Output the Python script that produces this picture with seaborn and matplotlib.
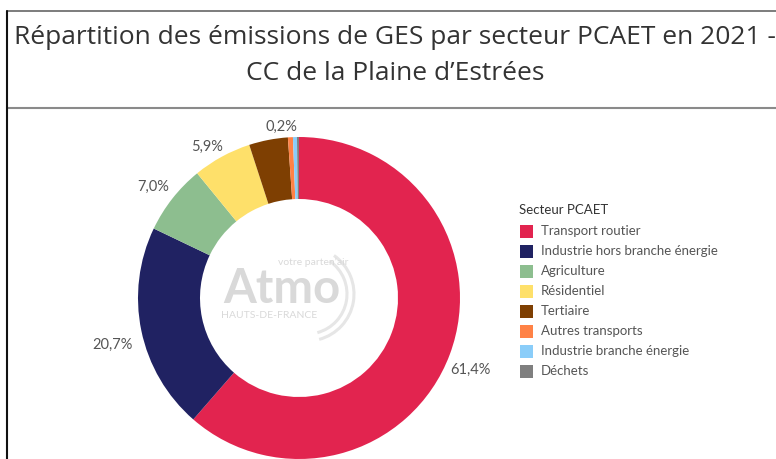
import matplotlib
matplotlib.use("Agg")
import matplotlib.pyplot as plt
from matplotlib.patches import Arc
import numpy as np
import seaborn as sns

# Sector shares of GHG emissions (%)
secteurs = ["Transport routier", "Industrie hors branche énergie", "Agriculture",
            "Résidentiel", "Tertiaire", "Autres transports",
            "Industrie branche énergie", "Déchets"]
parts = [61.4, 20.7, 7.0, 5.9, 3.9, 0.5, 0.4, 0.2]
etiquettes = ["61,4%", "20,7%", "7,0%", "5,9%", "", "", "", "0,2%"]
couleurs = ["#E2244F", "#202262", "#8DBE8F", "#FEE06A", "#7E3F02",
            "#FF8246", "#8ACDF9", "#7F7F7F"]

titre = "Répartition des émissions de GES par secteur PCAET en 2021 -\nCC de la Plaine d\u2019Estrées"
titre_legende = "Secteur PCAET"

sns.set_theme(style="white")
plt.rcParams["font.family"] = ["Lato", "DejaVu Sans"]
palette = sns.color_palette(couleurs)

W, H = 776, 459
fig = plt.figure(figsize=(W / 100, H / 100), dpi=100)
ax = fig.add_axes([0, 0, 1, 1])

cx, cy, R = 299, H - 298, 161
wedges, _ = ax.pie(parts, colors=palette, startangle=90, counterclock=False,
                   radius=R, center=(cx, cy),
                   wedgeprops=dict(width=62, linewidth=0, antialiased=True),
                   frame=True)

# value labels placed outside the ring (radial factor, alignment, nudge)
decal = {"61,4%": (1.08, "left", -12, -11), "20,7%": (1.08, "right", 4, -12),
         "7,0%": (1.12, "right", 12, 0), "5,9%": (1.12, "right", 10, -7),
         "0,2%": (1.08, "center", -16, -3)}
for w, lab in zip(wedges, etiquettes):
    if not lab:
        continue
    ang = np.deg2rad((w.theta1 + w.theta2) / 2)
    k, ha, dx, dy = decal[lab]
    x = cx + k * R * np.cos(ang) + dx
    y = cy + k * R * np.sin(ang) + dy
    ax.text(x, y, lab, ha=ha, va="center", fontsize=10.5, color="#555555")

# watermark logo in the hole
logo = "#d9d9d9"
ax.text(cx - 17, cy + 9, "Atmo", ha="center", va="center", fontsize=34,
        color=logo, fontweight="bold")
ax.text(cx + 14, cy + 36, "votre parten\u2019air", ha="center", va="center",
        fontsize=7.5, color=logo)
ax.text(cx - 30, cy - 17, "HAUTS-DE-FRANCE", ha="center", va="center",
        fontsize=7.5, color=logo)
for r in (40, 47):
    ax.add_patch(Arc((cx + 8, cy + 4), 2 * r, 2 * r, theta1=-75, theta2=55,
                     color="#e6e6e6", lw=2.2))

# title band and frame lines
lignes = titre.split("\n")
ax.text(395, H - 37, lignes[0], ha="center", va="center",
        fontsize=19, color="#333333", family=["Open Sans", "DejaVu Sans"])
ax.text(395, H - 73, lignes[1], ha="center", va="center",
        fontsize=19, color="#333333", family=["Open Sans", "DejaVu Sans"])
ax.plot([7, W], [H - 11, H - 11], color="#666666", lw=1.2)
ax.plot([7, W], [H - 108, H - 108], color="#8a8a8a", lw=1.5)
ax.plot([7, 7], [0, H - 11], color="#111111", lw=1.5)

# legend
lx, ly = 519, H - 210
ax.text(lx, ly, titre_legende, ha="left", va="center", fontsize=9.5,
        color="#333333")
for i, (s, c) in enumerate(zip(secteurs, palette)):
    y = ly - 21 - 20 * i
    ax.add_patch(plt.Rectangle((lx + 1, y - 6.5), 13, 13, color=c, lw=0))
    ax.text(lx + 22, y, s, ha="left", va="center", fontsize=9.5,
            color="#555555")

ax.set_xlim(0, W)
ax.set_ylim(0, H)
ax.set_aspect("equal")
ax.set_axis_off()
fig.savefig("out.png", dpi=100)
